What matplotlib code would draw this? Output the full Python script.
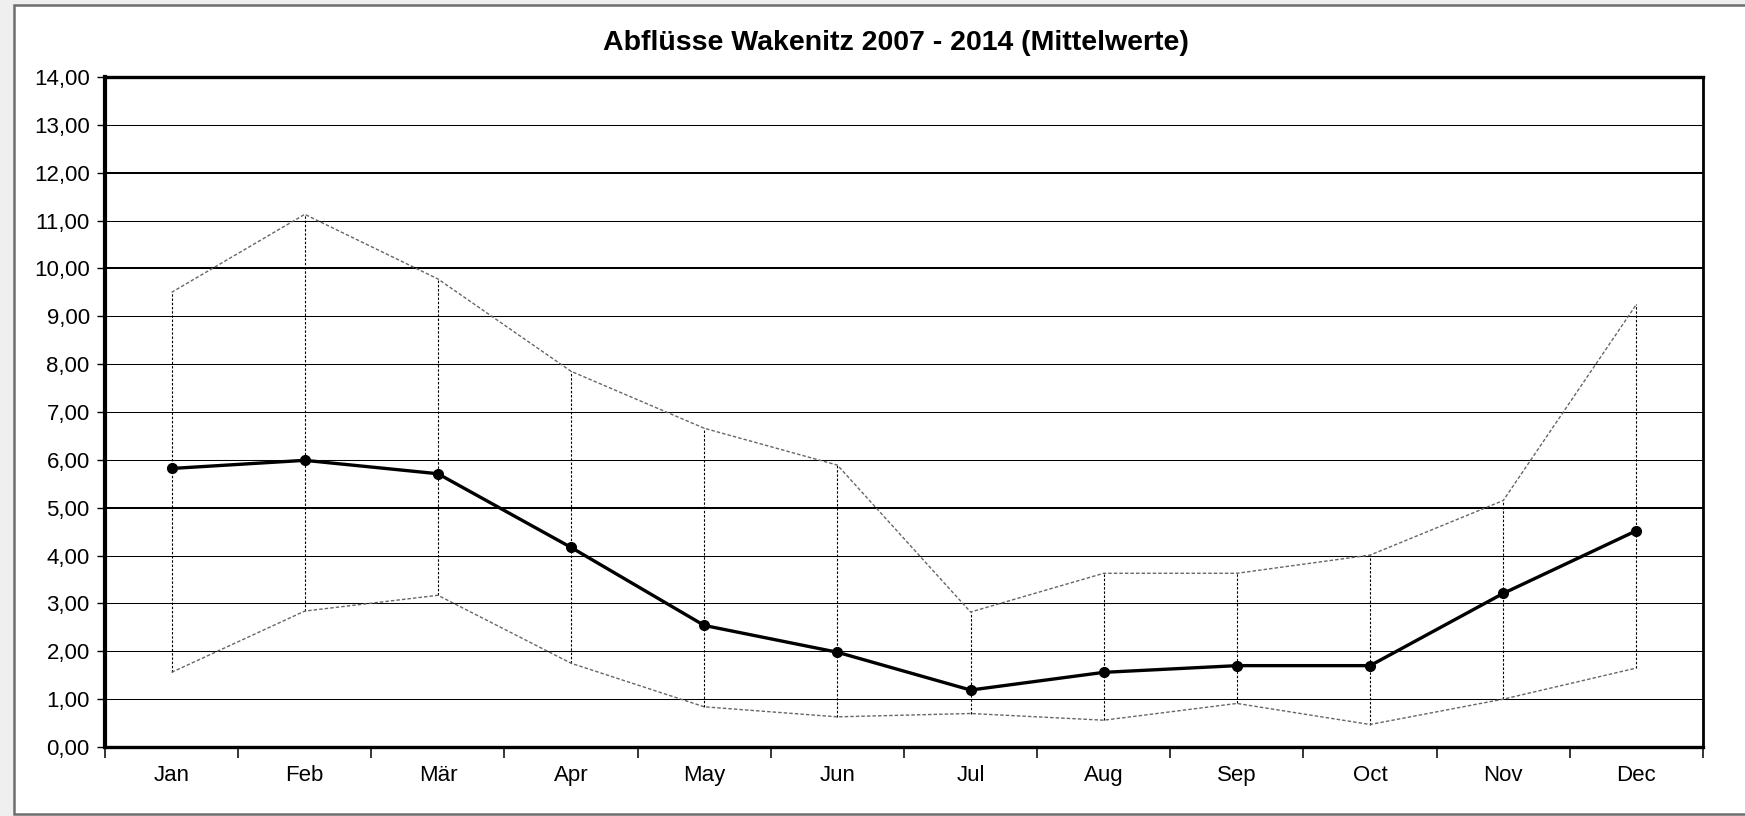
import matplotlib
matplotlib.use("Agg")
import matplotlib.pyplot as plt
from matplotlib.patches import Rectangle
from matplotlib.ticker import FixedLocator, FuncFormatter

# ── Data (monthly discharge, Wakenitz 2007-2014) ─────────────────────────────
months = ["Jan", "Feb", "Mär", "Apr", "May", "Jun",
          "Jul", "Aug", "Sep", "Oct", "Nov", "Dec"]
mean_vals = [5.82, 5.99, 5.71, 4.17, 2.54, 1.98, 1.19, 1.56, 1.70, 1.70, 3.21, 4.52]
max_vals = [9.50, 11.13, 9.78, 7.85, 6.66, 5.89, 2.82, 3.63, 3.63, 4.01, 5.15, 9.25]
min_vals = [1.56, 2.84, 3.17, 1.75, 0.84, 0.63, 0.70, 0.56, 0.91, 0.47, 1.00, 1.65]
y_ticks = list(range(0, 15))
thick_grid = [5, 10, 12]

W, H, DPI = 1745, 816, 100
plt.rcParams["font.family"] = ["Liberation Sans", "DejaVu Sans"]

fig = plt.figure(figsize=(W / DPI, H / DPI), dpi=DPI)
fig.patch.set_facecolor("#efefef")

# outer chart frame (white area with grey border)
fig.patches.append(Rectangle((13.5 / W, 2.5 / H), 1.1, (811 - 2.5) / H,
                             transform=fig.transFigure, facecolor="white",
                             edgecolor="#6e6e6e", linewidth=1.8, zorder=-10))

ax = fig.add_axes([105 / W, 1 - 747 / H, (1703 - 105) / W, (747 - 77) / H])
ax.set_zorder(1)
ax.set_facecolor("white")

x = list(range(len(months)))

# gridlines
for t in y_ticks[1:-1]:
    ax.axhline(t, color="black", linewidth=1.45 if t in thick_grid else 0.75, zorder=1)

# high-low drop lines
ax.vlines(x, min_vals, max_vals, colors="black", linewidth=0.8,
          linestyles=(0, (2.2, 1.6)), zorder=2)

# max / min envelopes
ax.plot(x, max_vals, color="#666666", linewidth=1.0, linestyle=(0, (2.5, 1.5)), zorder=3)
ax.plot(x, min_vals, color="#666666", linewidth=1.0, linestyle=(0, (2.5, 1.5)), zorder=3)

# mean line
ax.plot(x, mean_vals, color="black", linewidth=2.4, marker="o", markersize=7,
        zorder=4)

ax.set_xlim(-0.5, len(months) - 0.5)
ax.set_ylim(0, 14)

ax.xaxis.set_major_locator(FixedLocator([i - 0.5 for i in range(len(months) + 1)]))
ax.xaxis.set_major_formatter(FuncFormatter(lambda v, p: ""))
ax.set_xticks(x, months, minor=True)
ax.tick_params(axis="x", which="major", direction="out", length=8, width=1.1)
ax.tick_params(axis="x", which="minor", length=0, labelsize=16, pad=13)

ax.set_yticks(y_ticks)
ax.yaxis.set_major_formatter(FuncFormatter(lambda v, p: f"{v:.2f}".replace(".", ",")))
ax.tick_params(axis="y", direction="out", length=6, width=1, labelsize=16, pad=5)

ax.spines["left"].set_linewidth(3.0)
ax.spines["bottom"].set_linewidth(2.4)
ax.spines["top"].set_linewidth(2.4)
ax.spines["right"].set_linewidth(2.0)
for s in ax.spines.values():
    s.set_color("black")
    s.set_zorder(5)

fig.text(896 / W, 1 - 50 / H, "Abflüsse Wakenitz 2007 - 2014 (Mittelwerte)",
         ha="center", va="baseline", fontsize=20.5, fontweight="bold")

fig.savefig("out.png", dpi=DPI, facecolor=fig.get_facecolor())
